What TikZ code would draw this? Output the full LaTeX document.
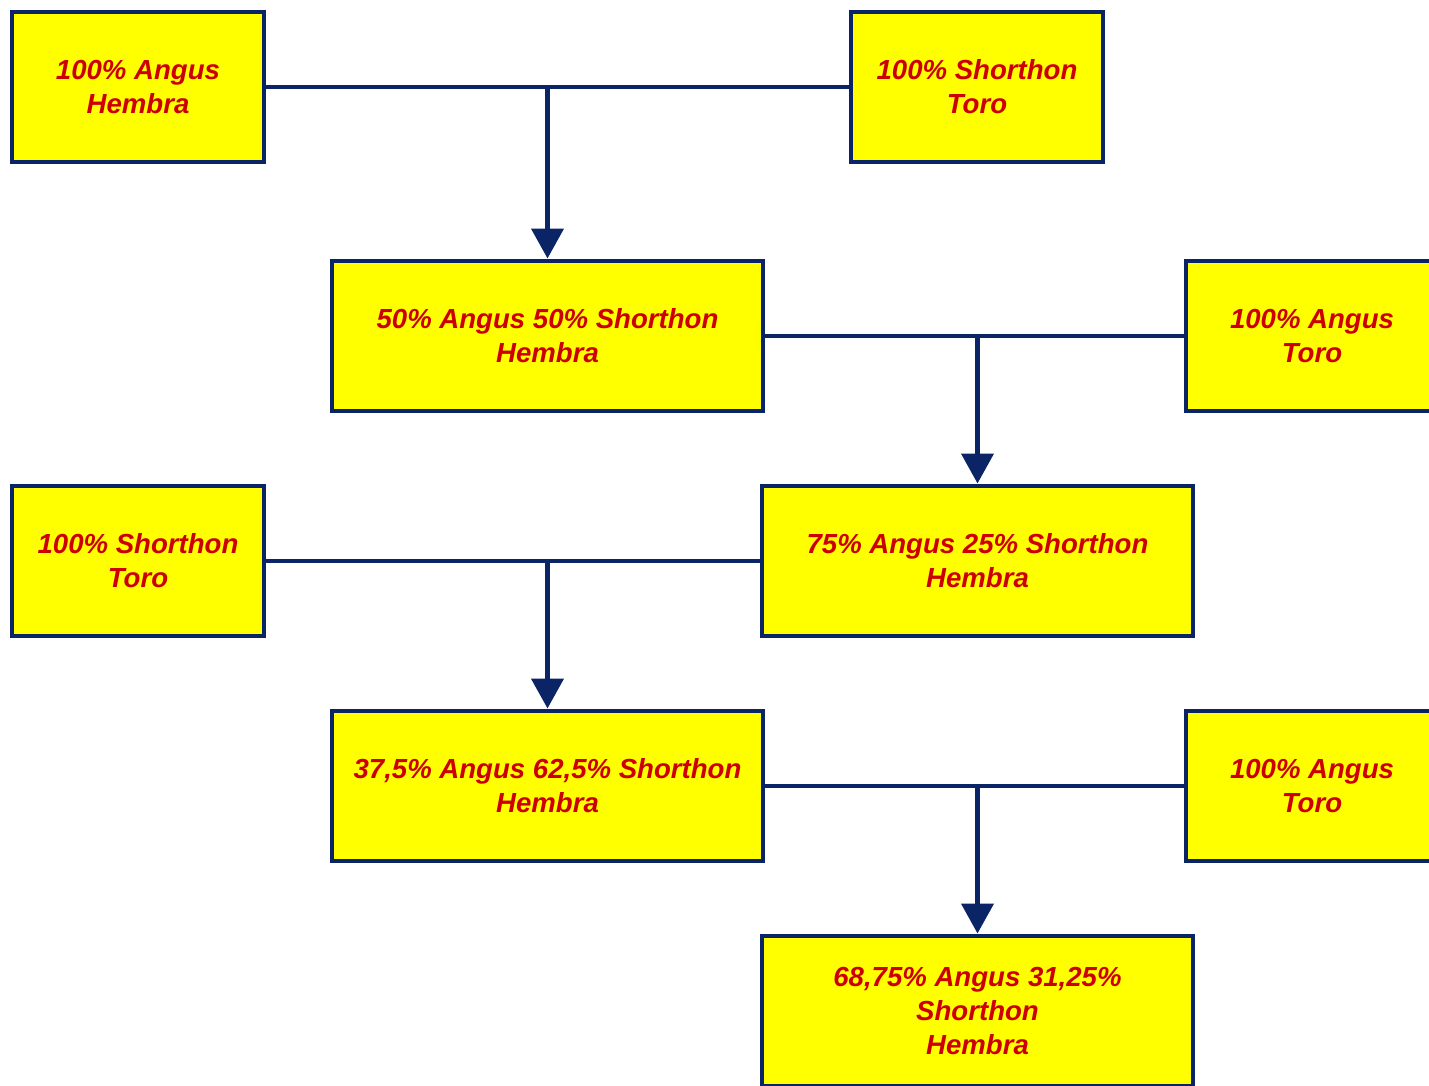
\documentclass[tikz,border=0pt]{standalone}
\usepackage{fontspec}
\setmainfont{Liberation Sans}
\usetikzlibrary{arrows.meta}
\definecolor{navy}{HTML}{0A2466}
\definecolor{txtred}{HTML}{CC0000}
\definecolor{boxyellow}{HTML}{FFFF00}
\begin{document}
\begin{tikzpicture}[x=0.02cm,y=-0.02cm,
  animal/.style={draw=navy,line width=2.8pt,fill=boxyellow,text=txtred,
    font=\fontsize{15.7}{19.3}\selectfont\bfseries\itshape,align=center,
    inner sep=0pt,minimum height=150*0.02cm},
  small/.style={animal,minimum width=252*0.02cm},
  wide/.style={animal,minimum width=431*0.02cm},
  link/.style={draw=navy,line width=2.8pt},
  arr/.style={link,-{Triangle[width=18pt,length=17pt]}}]
\useasboundingbox (0,0) rectangle (1429,1085);
\clip (0,0) rectangle (1429,1085);
\fill[white] (0,0) rectangle (1429,1085);
% nodes
\node[small] (a1) at (138,87) {100\% Angus\\Hembra};
\node[small] (s1) at (977,87) {100\% Shorthon\\Toro};
\node[wide]  (h1) at (547.5,336) {50\% Angus 50\% Shorthon\\Hembra};
\node[small] (a2) at (1312,336) {100\% Angus\\Toro};
\node[small] (s2) at (138,561) {100\% Shorthon\\Toro};
\node[wide]  (h2) at (977.5,561) {75\% Angus 25\% Shorthon\\Hembra};
\node[wide]  (h3) at (547.5,786) {37,5\% Angus 62,5\% Shorthon\\Hembra};
\node[small] (a3) at (1312,786) {100\% Angus\\Toro};
\node[wide]  (h4) at (977.5,1011) {68,75\% Angus 31,25\%\\Shorthon\\Hembra};
% junctions
\coordinate (j1) at (547.5,87);
\coordinate (j2) at (977.5,336);
\coordinate (j3) at (547.5,561);
\coordinate (j4) at (977.5,786);
% connectors
\draw[link] (a1.east) -- (s1.west);
\draw[arr] (j1) -- (h1.north);
\draw[link] (h1.east) -- (a2.west);
\draw[arr] (j2) -- (h2.north);
\draw[link] (s2.east) -- (h2.west);
\draw[arr] (j3) -- (h3.north);
\draw[link] (h3.east) -- (a3.west);
\draw[arr] (j4) -- (h4.north);
\end{tikzpicture}
\end{document}
